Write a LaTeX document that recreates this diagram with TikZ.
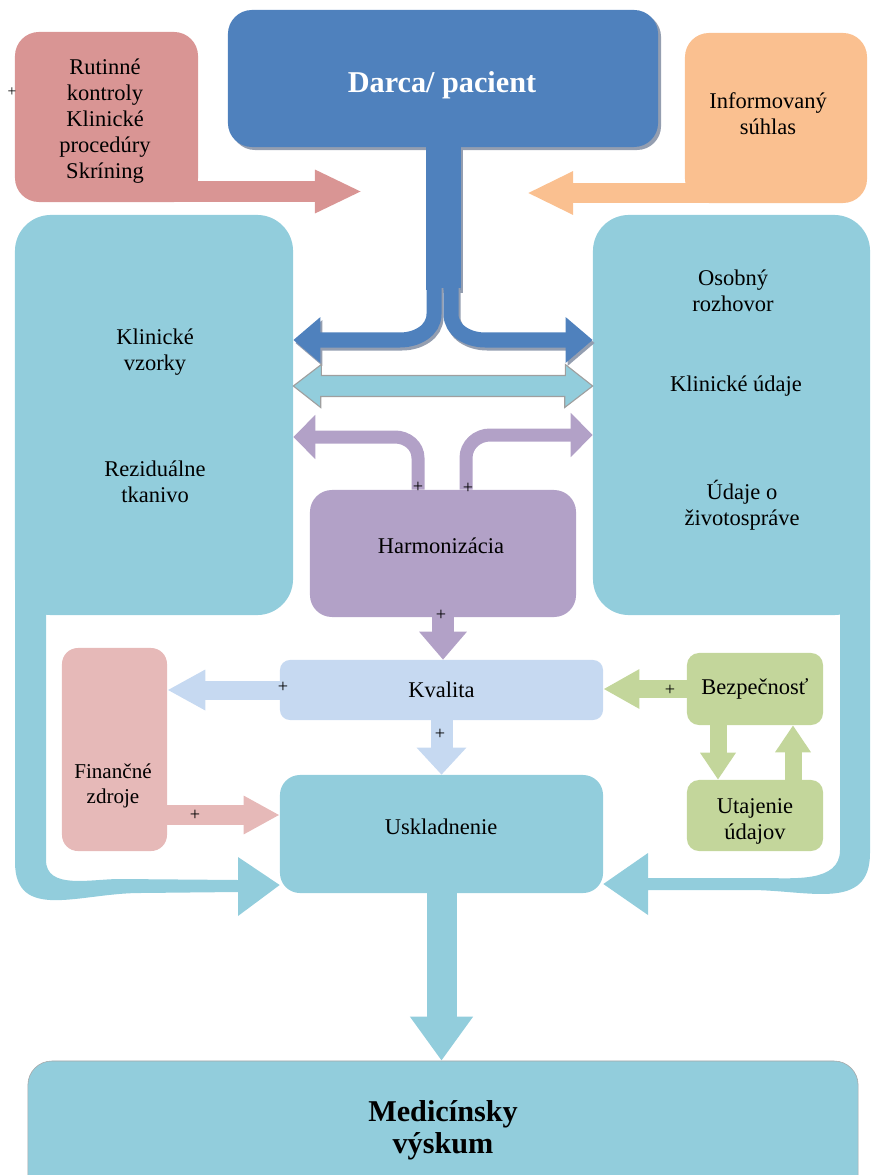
\documentclass[tikz,border=0pt]{standalone}
\usepackage{fontspec}
\setmainfont{Liberation Serif}
\usetikzlibrary{arrows.meta,shadows,backgrounds}
\definecolor{darcablue}{HTML}{4F81BD}
\definecolor{shadowgray}{RGB}{148,158,176}
\definecolor{rutpink}{HTML}{D99594}
\definecolor{infoorange}{HTML}{FAC090}
\definecolor{sampleblue}{HTML}{92CDDC}
\definecolor{harmviolet}{HTML}{B2A1C7}
\definecolor{qualblue}{HTML}{C6D9F1}
\definecolor{finpink}{HTML}{E6B9B8}
\definecolor{secgreen}{HTML}{C3D69B}
\begin{document}
\begin{tikzpicture}[x=0.025cm,y=-0.025cm,
  box/.style={inner sep=0pt,align=center,font=\fontsize{16}{18.5}\selectfont},
  plus/.style={inner sep=0pt,font=\fontsize{13}{13}\selectfont},
  fatarrow/.style n args={3}{line width=#1cm,-{Triangle[width=#2cm,length=#3cm]}},
  blueshadow/.style={shadowgray,transform canvas={shift={(2,3)}}}]
\useasboundingbox (0,0) rectangle (877,1175);
% boxes
\node[box,fill=rutpink,rounded corners=0.6cm,minimum width=4.575cm,minimum height=4.25cm] (rut) at (106.5,117) {};
\node[box] (ruttext) at (105,121) {Rutinné\\kontroly\\Klinické\\procedúry\\Skríning};
\node[box,fill=darcablue,rounded corners=0.6cm,minimum width=10.75cm,minimum height=3.425cm,drop shadow={shadow xshift=0.075cm,shadow yshift=-0.075cm,fill=shadowgray,opacity=1}] (darca) at (443,78.5) {};
\node[box,text=white,font=\fontsize{21.5}{26}\selectfont\bfseries] (darcatext) at (442,85) {Darca/ pacient};
\node[box,fill=infoorange,rounded corners=0.6cm,minimum width=4.55cm,minimum height=4.25cm] (inf) at (776,118) {};
\node[box] (inftext) at (768,114) {Informovaný\\súhlas};
\node[box,fill=sampleblue,rounded corners=0.9cm,minimum width=6.95cm,minimum height=10cm] (lbox) at (154,415) {};
\node[box] (vzorky) at (155,352) {Klinické\\vzorky};
\node[box] (tkanivo) at (155,482) {Reziduálne\\tkanivo};
\node[box,fill=sampleblue,rounded corners=0.9cm,minimum width=6.925cm,minimum height=10cm] (rbox) at (731.5,415) {};
\node[box] (rozhovor) at (733,291) {Osobný\\rozhovor};
\node[box] (udaje) at (736,386) {Klinické údaje};
\node[box] (zivot) at (742,505) {Údaje o\\životospráve};
\node[box,fill=harmviolet,rounded corners=0.55cm,minimum width=6.65cm,minimum height=3.175cm] (harm) at (443,553.5) {};
\node[box] (harmtext) at (441,546) {Harmonizácia};
\node[box,fill=qualblue,rounded corners=0.25cm,minimum width=8.075cm,minimum height=1.5cm] (kval) at (441.5,690) {Kvalita};
\node[box,fill=sampleblue,rounded corners=0.5cm,minimum width=8.075cm,minimum height=2.95cm] (usk) at (441.5,834) {};
\node[box] (usktext) at (441,827) {Uskladnenie};
\node[box,fill=finpink,rounded corners=0.4cm,minimum width=2.625cm,minimum height=5.075cm] (fin) at (114.5,749.5) {};
\node[box,font=\fontsize{15}{17.5}\selectfont] (zdroje) at (113,786) {Finančné\\zdroje};
\node[box,fill=secgreen,rounded corners=0.3cm,minimum width=3.4cm,minimum height=1.8cm] (bez) at (755,689) {Bezpečnosť};
\node[box,fill=secgreen,rounded corners=0.3cm,minimum width=3.4cm,minimum height=1.775cm] (uta) at (755,815.5) {};
\node[box] (utatext) at (755,821) {Utajenie\\údajov};
\node[box,fill=sampleblue,draw=gray!70,rounded corners=0.6cm,minimum width=20.75cm,minimum height=3.475cm,font=\fontsize{21.5}{23}\selectfont\bfseries] (med) at (443,1130.5) {Medicínsky\\výskum};
% donor stem and branches
\draw[line width=0.875cm,blueshadow] (darca.south) -- (443,290);
\draw[line width=0.875cm,darcablue] (darca.south) -- (443,290);
\draw[fatarrow={0.375}{1.1}{0.675},blueshadow] (434,285) -- (434,314) to[out=-90,in=0] (400,340) -- (lbox.east |- 0,340);
\draw[fatarrow={0.375}{1.1}{0.675},blueshadow] (451,285) -- (451,314) to[out=-90,in=180] (485,340) -- (rbox.west |- 0,340);
\draw[fatarrow={0.375}{1.1}{0.675},darcablue] (434,285) -- (434,314) to[out=-90,in=0] (400,340) -- (lbox.east |- 0,340);
\draw[fatarrow={0.375}{1.1}{0.675},darcablue] (451,285) -- (451,314) to[out=-90,in=180] (485,340) -- (rbox.west |- 0,340);
% double arrow between the two sides
\draw[fill=sampleblue,draw=gray!75,line width=0.8pt] (lbox.east |- 0,386) -- ++(28,-21.5) -- ++(0,11) -- ++(244,0) -- ++(0,-11) -- (rbox.west |- 0,386) -- ++(-28,21.5) -- ++(0,-11) -- ++(-244,0) -- ++(0,11) -- cycle;
% harmonisation
\draw[fatarrow={0.325}{1.075}{0.55},harmviolet] (harm.north -| 418,0) -- (418,458) to[out=90,in=0] (395,437) -- (lbox.east |- 0,437);
\draw[fatarrow={0.325}{1.075}{0.55},harmviolet] (harm.north -| 466,0) -- (466,458) to[out=90,in=180] (490,435) -- (rbox.west |- 0,435);
\draw[fatarrow={0.55}{1.15}{0.7},harmviolet] (harm.south) -- (harm.south |- kval.north);
% quality, funds, security
\draw[fatarrow={0.55}{1.2}{0.675},qualblue] (kval.south) -- (usk.north);
\draw[fatarrow={0.475}{0.95}{0.95},qualblue] (kval.west) -- (fin.east |- kval.west);
\draw[fatarrow={0.5}{0.9}{0.9},finpink] (fin.east |- 0,815) -- (usk.west |- 0,815);
\draw[fatarrow={0.45}{0.925}{0.9},secgreen] (bez.west) -- (kval.east |- bez.west);
\draw[fatarrow={0.425}{0.85}{0.675},secgreen] (bez.south -| 718,0) -- (uta.north -| 718,0);
\draw[fatarrow={0.425}{0.85}{0.675},secgreen] (uta.north -| 793,0) -- (bez.south -| 793,0);
\draw[fatarrow={0.75}{1.5}{1.1},sampleblue] (usk.south) -- (usk.south |- med.north);
% arrows behind the boxes
\coordinate (rutend) at (362,191.5);
\coordinate (infend) at (527,193);
\begin{scope}[on background layer]
\draw[fatarrow={0.525}{1.0}{1.175},rutpink] (rut.center |- rutend) -- (rutend);
\draw[fatarrow={0.5}{1.0}{1.15},infoorange] (inf.center |- infend) -- (infend);
\fill[sampleblue] (15,560) -- (15,862) to[out=-90,in=180,looseness=1.2] (140,893) -- (238,892) -- (238,916) -- (usk.west |- 0,885) -- (238,857) -- (238,880) -- (120,879) to[out=180,in=-90] (46,860) -- (46,560) -- cycle;
\fill[sampleblue] (870,560) -- (870,853) to[out=-90,in=0,looseness=1.2] (750,890) -- (648,890) -- (648,915) -- (usk.east |- 0,884) -- (648,853) -- (648,878) -- (760,878) to[out=0,in=-90] (840,850) -- (840,560) -- cycle;
\end{scope}
% signs
\node[plus,font=\fontsize{11}{11}\selectfont] (p0) at (12,92) {+};
\node[plus] (p1) at (418,487) {+};
\node[plus] (p2) at (468,488) {+};
\node[plus] (p3) at (441,615) {+};
\node[plus] (p4) at (283,687) {+};
\node[plus] (p5) at (440,734) {+};
\node[plus] (p6) at (195,815) {+};
\node[plus] (p7) at (670,690) {+};
\end{tikzpicture}
\end{document}
